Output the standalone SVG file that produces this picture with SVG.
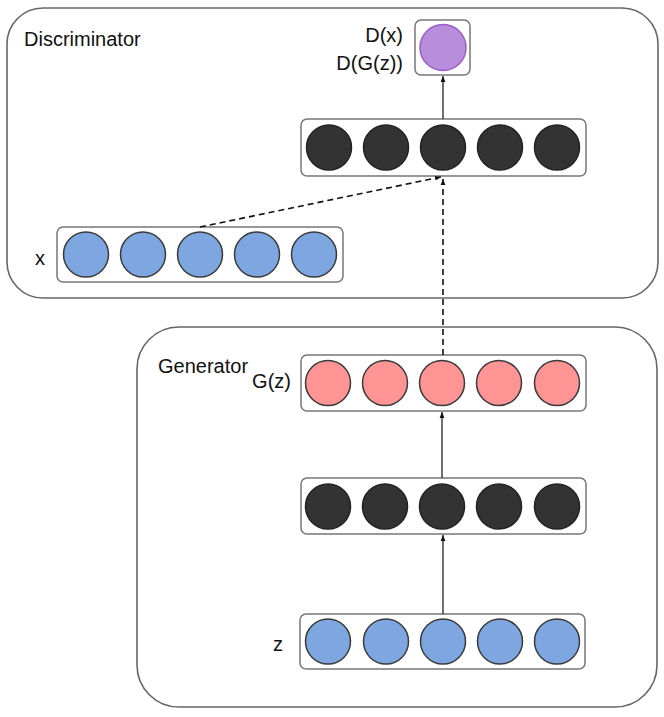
<svg xmlns="http://www.w3.org/2000/svg" width="664" height="717" viewBox="0 0 664 717">
<defs>
<marker id="ah" viewBox="0 0 10 10" refX="10" refY="5" markerWidth="6" markerHeight="6" markerUnits="userSpaceOnUse" orient="auto">
<path d="M0,1 L10,5 L0,9 Z" fill="#111"/>
</marker>
</defs>
<style>
.outer{fill:#fff;stroke:#666;stroke-width:1.6}
.row{fill:#fff;stroke:#777;stroke-width:1.5}
.blue{fill:#7ea6e0;stroke:#3a3a3a;stroke-width:1.5}
.dark{fill:#333;stroke:#222;stroke-width:1.5}
.pink{fill:#ff9494;stroke:#3a3a3a;stroke-width:1.5}
.purple{fill:#b88edc;stroke:#9a5cc8;stroke-width:1.5}
.lbl{font-family:"Liberation Sans",Arial,sans-serif;font-size:20px;fill:#111}
.solid{stroke:#222;stroke-width:1.3;fill:none}
.dash{stroke:#111;stroke-width:1.6;fill:none;stroke-dasharray:6,4}
</style>
<rect width="664" height="717" fill="#fff"/>
<g id="discriminator">
<rect class="outer" x="7" y="8" width="651" height="290" rx="36" ry="36"/>
<text class="lbl" x="24" y="46">Discriminator</text>
</g>
<g id="generator">
<rect class="outer" x="137" y="327" width="520" height="380" rx="42" ry="42"/>
<text class="lbl" x="158" y="373">Generator</text>
</g>
<g id="output">
<rect class="row" x="415" y="20" width="55" height="55" rx="6"/>
<circle class="purple" cx="443" cy="47.5" r="23"/>
<text class="lbl" x="403" y="42" text-anchor="end">D(x)</text>
<text class="lbl" x="403" y="70" text-anchor="end">D(G(z))</text>
</g>
<g id="d-hidden">
<rect class="row" x="301" y="119" width="285" height="57" rx="6"/>
<circle class="dark" cx="329" cy="147.5" r="22.5"/>
<circle class="dark" cx="386" cy="147.5" r="22.5"/>
<circle class="dark" cx="443" cy="147.5" r="22.5"/>
<circle class="dark" cx="500" cy="147.5" r="22.5"/>
<circle class="dark" cx="557" cy="147.5" r="22.5"/>
</g>
<g id="x-input">
<rect class="row" x="57" y="227" width="286" height="55" rx="6"/>
<circle class="blue" cx="86" cy="254.5" r="22.5"/>
<circle class="blue" cx="143" cy="254.5" r="22.5"/>
<circle class="blue" cx="200" cy="254.5" r="22.5"/>
<circle class="blue" cx="257" cy="254.5" r="22.5"/>
<circle class="blue" cx="314" cy="254.5" r="22.5"/>
<text class="lbl" x="35" y="265">x</text>
</g>
<g id="gz">
<rect class="row" x="301" y="355" width="285" height="56" rx="6"/>
<circle class="pink" cx="328" cy="383" r="22.5"/>
<circle class="pink" cx="385" cy="383" r="22.5"/>
<circle class="pink" cx="442" cy="383" r="22.5"/>
<circle class="pink" cx="499" cy="383" r="22.5"/>
<circle class="pink" cx="557" cy="383" r="22.5"/>
<text class="lbl" x="291" y="388" text-anchor="end">G(z)</text>
</g>
<g id="g-hidden">
<rect class="row" x="301" y="478" width="285" height="56" rx="6"/>
<circle class="dark" cx="328" cy="506.5" r="22.5"/>
<circle class="dark" cx="385" cy="506.5" r="22.5"/>
<circle class="dark" cx="442" cy="506.5" r="22.5"/>
<circle class="dark" cx="499" cy="506.5" r="22.5"/>
<circle class="dark" cx="557" cy="506.5" r="22.5"/>
</g>
<g id="z-input">
<rect class="row" x="300" y="614" width="285" height="55" rx="6"/>
<circle class="blue" cx="328" cy="641.5" r="22.5"/>
<circle class="blue" cx="386" cy="641.5" r="22.5"/>
<circle class="blue" cx="443" cy="641.5" r="22.5"/>
<circle class="blue" cx="500" cy="641.5" r="22.5"/>
<circle class="blue" cx="557" cy="641.5" r="22.5"/>
<text class="lbl" x="273" y="651">z</text>
</g>
<g id="connectors">
<line class="solid" x1="443" y1="119" x2="443" y2="76" marker-end="url(#ah)"/>
<line class="solid" x1="442" y1="478" x2="442" y2="412" marker-end="url(#ah)"/>
<line class="solid" x1="443" y1="614" x2="443" y2="535" marker-end="url(#ah)"/>
<line class="dash" x1="443" y1="355" x2="443" y2="179" marker-end="url(#ah)"/>
<line class="dash" x1="200" y1="227" x2="441" y2="177" marker-end="url(#ah)"/>
</g>
</svg>
